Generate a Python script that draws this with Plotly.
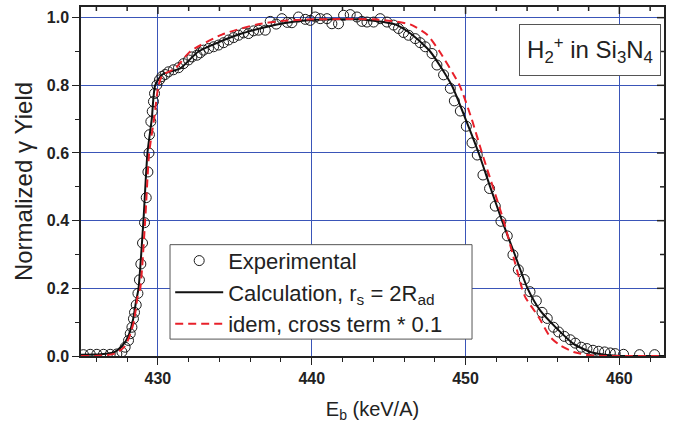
import math
import plotly.graph_objects as go

# Experimental data (E_b in keV/A, normalized yield)
exp_E = [425.16, 425.60, 426.03, 426.46, 426.90, 427.33, 427.66, 427.87, 428.09, 428.20,
         428.31, 428.41, 428.48, 428.59, 428.70, 428.80, 428.89, 429.00, 429.13, 429.24,
         429.35, 429.42, 429.45, 429.54, 429.63, 429.71, 429.78, 429.93, 430.10, 430.26,
         430.47, 430.69, 431.01, 431.34, 431.66, 431.99, 432.21, 432.54, 432.75, 432.96,
         433.29, 433.62, 433.94, 434.27, 434.59, 434.92, 435.24, 435.57, 435.89, 436.22,
         436.54, 436.98, 437.30, 437.69, 438.06, 438.41, 438.71, 439.14, 439.58, 439.90,
         440.23, 440.55, 440.99, 441.31, 441.74, 442.07, 442.50, 442.94, 443.26, 443.59,
         444.02, 444.45, 444.89, 445.32, 445.64, 445.97, 446.29, 446.73, 447.05, 447.38,
         447.82, 448.14, 448.57, 449.01, 449.27, 449.66, 450.05, 450.42, 450.76, 451.13,
         451.56, 451.93, 452.30, 452.71, 453.08, 453.43, 453.82, 454.19, 454.60, 454.97,
         455.31, 455.72, 456.05, 456.42, 456.81, 457.13, 457.52, 457.89, 458.28, 458.65,
         459.04, 459.41, 459.73, 460.27, 461.31, 462.29]
exp_Y = [0.004, 0.005, 0.005, 0.005, 0.005, 0.006, 0.012, 0.026, 0.046, 0.066,
         0.085, 0.110, 0.129, 0.151, 0.185, 0.225, 0.272, 0.334, 0.394, 0.468,
         0.544, 0.600, 0.654, 0.693, 0.723, 0.752, 0.776, 0.801, 0.816, 0.826,
         0.832, 0.840, 0.846, 0.852, 0.864, 0.875, 0.884, 0.889, 0.896, 0.904,
         0.909, 0.914, 0.919, 0.926, 0.934, 0.941, 0.948, 0.955, 0.953, 0.961,
         0.963, 0.963, 0.989, 0.981, 0.997, 0.986, 0.985, 1.002, 0.995, 0.992,
         1.002, 0.997, 0.997, 0.982, 0.982, 1.007, 1.009, 1.002, 0.989, 0.987,
         0.987, 0.997, 0.987, 0.978, 0.968, 0.956, 0.948, 0.938, 0.926, 0.914,
         0.894, 0.860, 0.831, 0.791, 0.754, 0.724, 0.679, 0.630, 0.594, 0.535,
         0.495, 0.443, 0.398, 0.355, 0.299, 0.255, 0.226, 0.190, 0.163, 0.129,
         0.111, 0.085, 0.071, 0.058, 0.048, 0.038, 0.026, 0.022, 0.017, 0.014,
         0.012, 0.009, 0.007, 0.005, 0.004, 0.004]

# Calculation, r_s = 2R_ad
calc_E = [425.0, 426.3, 427.2, 427.7, 428.05, 428.37, 428.59, 428.74, 429.06, 429.32,
          429.6, 429.82, 430.28, 431.45, 432.64, 435.24, 437.74, 440.0, 443.0, 445.43,
          446.51, 447.7, 449.1, 450.0, 450.85, 451.6, 452.37, 453.2, 454.03, 454.86,
          455.94, 457.02, 458.11, 459.19, 460.1, 463.0]
calc_Y = [0.004, 0.005, 0.012, 0.031, 0.056, 0.105, 0.164, 0.20, 0.40, 0.60,
          0.70, 0.80, 0.832, 0.85, 0.90, 0.95, 0.98, 0.993, 0.995, 0.98,
          0.95, 0.90, 0.80, 0.70, 0.60, 0.50, 0.40, 0.30, 0.20, 0.134,
          0.081, 0.036, 0.012, 0.003, 0.0, 0.0]

# idem, cross term * 0.1
idem_E = [425.0, 425.9, 427.2, 427.8, 428.13, 428.45, 428.67, 428.85, 429.17, 429.43,
          429.75, 430.04, 430.3, 431.12, 432.1, 434.16, 436.44, 438.0, 440.0, 444.0,
          445.2, 446.4, 447.49, 448.31, 449.61, 450.4, 451.07, 452.47, 453.67, 453.88,
          454.75, 455.51, 456.16, 457.02, 458.11, 463.0]
idem_Y = [0.0, 0.0, 0.007, 0.026, 0.055, 0.104, 0.173, 0.20, 0.40, 0.60,
          0.70, 0.80, 0.83, 0.85, 0.90, 0.95, 0.98, 0.99, 0.995, 0.995,
          0.99, 0.98, 0.95, 0.90, 0.80, 0.70, 0.60, 0.40, 0.20, 0.174,
          0.115, 0.056, 0.031, 0.012, 0.002, 0.0]

FONT = "Liberation Sans, Arial, sans-serif"
GRID = "#3a55b8"
INK = "#222222"

W, H = 673, 427
ML, MR, MT, MB = 81, 9, 5, 71
PW, PH = W - ML - MR, H - MT - MB

XR = [425.0, 462.9]
YR = [0.0, 1.0315]
X_MAJOR, X_MINOR = 10, 2
Y_MAJOR, Y_MINOR = 0.2, 0.1
TL_MAJ, TL_MIN = 7, 4

fig = go.Figure()
fig.add_trace(go.Scatter(
    x=exp_E, y=exp_Y, mode="markers", name="Experimental",
    marker=dict(symbol="circle-open", size=10, color="#1a1a1a", line=dict(width=1))))
fig.add_trace(go.Scatter(
    x=calc_E, y=calc_Y, mode="lines", name="Calculation, r<sub>s</sub> = 2R<sub>ad</sub>",
    line=dict(color="#111111", width=2, shape="spline", smoothing=0.6)))
fig.add_trace(go.Scatter(
    x=idem_E, y=idem_Y, mode="lines", name="idem, cross term * 0.1",
    line=dict(color="#e8202a", width=2, dash="8px,5px", shape="spline", smoothing=0.6)))

shapes = []
# legend frame (drawn as a shape so it can be wider than the text)
shapes.append(dict(type="rect", xref="paper", yref="paper", x0=0.1527, x1=0.6707,
                   y0=0.0484, y1=0.319, line=dict(color="#555", width=1),
                   fillcolor="white", layer="above"))
# mirrored inward ticks on the top and right frame
xt = math.ceil(XR[0] / X_MINOR) * X_MINOR
while xt <= XR[1]:
    L = TL_MAJ if abs(xt % X_MAJOR) < 1e-9 else TL_MIN
    shapes.append(dict(type="line", xref="x", yref="paper",
                       x0=xt, x1=xt, y0=1.0, y1=1.0 - L / PH,
                       line=dict(color=INK, width=1.5), layer="above"))
    xt += X_MINOR
k = 1
while k * Y_MINOR <= YR[1] + 1e-9:
    yt = round(k * Y_MINOR, 6)
    L = TL_MAJ if k % 2 == 0 else TL_MIN
    shapes.append(dict(type="line", xref="paper", yref="y",
                       x0=1.0, x1=1.0 - L / PW, y0=yt, y1=yt,
                       line=dict(color=INK, width=1.5), layer="above"))
    k += 1

fig.update_layout(
    width=W, height=H,
    margin=dict(l=ML, r=MR, t=MT, b=MB),
    paper_bgcolor="white", plot_bgcolor="white",
    font=dict(family=FONT, color=INK),
    showlegend=True,
    shapes=shapes,
    xaxis=dict(
        range=XR, dtick=X_MAJOR, tick0=430, ticks="outside", ticklen=TL_MAJ, tickwidth=1.3,
        tickcolor=INK, showline=True, linecolor=INK, linewidth=1.5, mirror=True,
        showgrid=True, gridcolor=GRID, gridwidth=1, zeroline=False,
        tickfont=dict(size=16, family=FONT, weight="bold", color=INK),
        minor=dict(dtick=X_MINOR, tick0=430, ticks="outside", ticklen=TL_MIN, tickcolor=INK, showgrid=False),
        title=dict(text="E<sub>b</sub> (keV/A)", font=dict(size=20, family=FONT, color=INK), standoff=16),
    ),
    yaxis=dict(
        range=YR, dtick=Y_MAJOR, tick0=0, tickformat=".1f", ticks="outside", ticklen=TL_MAJ, tickwidth=1.3,
        tickcolor=INK, showline=True, linecolor=INK, linewidth=1.5, mirror=True,
        showgrid=True, gridcolor=GRID, gridwidth=1, zeroline=False,
        tickfont=dict(size=16, family=FONT, weight="bold", color=INK),
        minor=dict(dtick=Y_MINOR, tick0=0, ticks="outside", ticklen=TL_MIN, tickcolor=INK, showgrid=False),
        title=dict(text="Normalized γ Yield", font=dict(size=24, family=FONT, color=INK), standoff=7),
    ),
    legend=dict(
        x=0.153, y=0.333, xanchor="left", yanchor="top",
        bgcolor="rgba(0,0,0,0)", borderwidth=0,
        font=dict(size=22, family=FONT, color=INK),
        tracegroupgap=0, itemwidth=48,
    ),
    annotations=[dict(
        text="H<sub>2</sub><sup>+</sup> in Si<sub>3</sub>N<sub>4</sub>",
        xref="paper", yref="paper", x=0.873, y=0.877, xanchor="center", yanchor="middle",
        showarrow=False, font=dict(size=24, family=FONT, color=INK),
        bordercolor="#555", borderwidth=1, borderpad=5, bgcolor="white",
        width=130, height=40,
    )],
)

fig.write_html("out.html")
